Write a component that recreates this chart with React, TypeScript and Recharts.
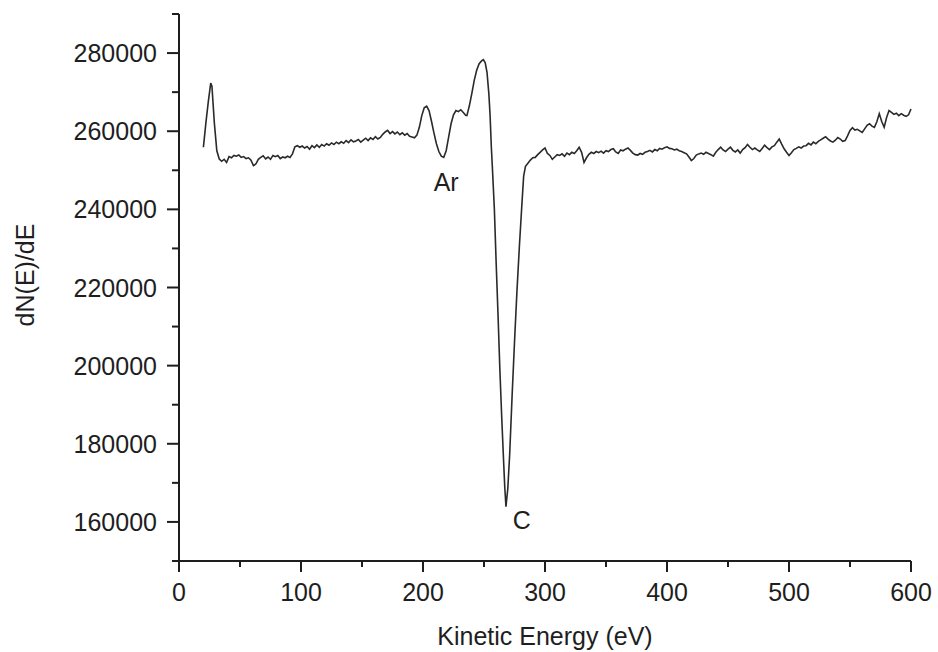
import React from 'react';
import { LineChart, Line, XAxis, YAxis, ReferenceDot } from 'recharts';

const energy: number[] = [
  20, 22, 24, 26, 27, 29, 31, 33, 35, 37, 39, 41, 43, 45, 47, 49, 51, 53, 55, 57, 59, 61, 63, 65, 67, 69,
  71, 73, 75, 77, 79, 81, 83, 85, 87, 89, 91, 93, 95, 97, 99, 101, 103, 105, 107, 109, 111, 113, 115, 117,
  119, 121, 123, 125, 127, 129, 131, 133, 135, 137, 139, 141, 143, 145, 147, 149, 151, 153, 155, 157, 159,
  161, 163, 165, 167, 169, 171, 173, 175, 177, 179, 181, 183, 185, 187, 189, 191, 193, 195, 197, 199, 201,
  203, 205, 207, 209, 211, 213, 215, 217, 219, 221, 223, 225, 227, 229, 231, 233, 235, 236, 238, 240, 242,
  244, 246, 248, 249.5, 251, 252.5, 254, 255, 256, 257, 258.5, 260, 261.5, 263, 264.5, 266, 267, 268, 269.5,
  271, 273, 275, 277, 279, 281, 282.5, 284, 286, 288, 290, 292, 294, 296, 298, 300, 302, 304, 306, 308, 310,
  312, 314, 316, 318, 320, 322, 324, 326, 328, 330, 332, 334, 336, 338, 340, 342, 344, 346, 348, 350, 352,
  354, 356, 358, 360, 362, 364, 366, 368, 370, 372, 374, 376, 378, 380, 382, 384, 386, 388, 390, 392, 394,
  396, 398, 400, 402, 404, 406, 408, 410, 412, 414, 416, 418, 420, 422, 424, 426, 428, 430, 432, 434, 436,
  438, 440, 442, 444, 446, 448, 450, 452, 454, 456, 458, 460, 462, 464, 466, 468, 470, 472, 474, 476, 478,
  480, 482, 484, 486, 488, 490, 492, 494, 496, 498, 500, 502, 504, 506, 508, 510, 512, 514, 516, 518, 520,
  522, 524, 526, 528, 530, 532, 534, 536, 538, 540, 542, 544, 546, 548, 550, 552, 554, 556, 558, 560, 562,
  564, 566, 568, 570, 572, 574, 576, 578, 580, 582, 584, 586, 588, 590, 592, 594, 596, 598, 600,
];

const signal: number[] = [
  255900, 262000, 267500, 272300, 271500, 262000, 255000, 252900, 252300, 252800, 252000, 253500, 253200,
  253800, 253600, 253900, 253300, 253500, 253000, 253200, 252600, 251200, 251600, 252800, 253300, 253700,
  252900, 253400, 252800, 253800, 253500, 253800, 253000, 253400, 253200, 253600, 253300, 254200, 256000,
  256300, 255900, 256200, 255700, 256100, 255400, 256300, 255800, 256500, 255900, 256600, 256200, 256800,
  256400, 257000, 256600, 257200, 256800, 257300, 256900, 257600, 257100, 257800, 257300, 257500, 257900,
  257200, 257700, 258200, 257600, 258300, 257900, 258600, 258000, 258400, 259200, 259800, 260200, 259400,
  259900, 259300, 259800, 259100, 259600, 259000, 259400, 258700, 258500, 258300, 259000, 261000, 264000,
  266000, 266400, 265200, 262500, 259500, 256800, 254800, 253600, 253300, 255000, 258500, 261900, 264200,
  265300, 265000, 265500, 264800, 264100, 264000, 266500, 269600, 273000, 275600, 277300, 278000, 278300,
  277500, 275000, 269500, 264000, 256000, 249900, 240000, 226000, 213000, 199000, 187000, 176000, 169000,
  163900, 168500, 177000, 192000, 206000, 219000, 230500, 241000, 248500, 251000, 251800, 252600, 253200,
  253300, 254000, 254600, 255200, 255700, 254300, 253800, 252800, 253400, 254000, 253800, 254200, 253600,
  254400, 254000, 254600, 254300, 255000, 255900, 254600, 252000, 253200, 254100, 254600, 254300, 254800,
  254500, 254900, 254400, 255000, 254800, 255300, 255500, 254700, 254300, 255200, 255000, 255400, 255700,
  255100, 254400, 254000, 253900, 254300, 254100, 254600, 254800, 255100, 254700, 255300, 255000, 255600,
  255400, 255800, 256000, 255600, 255500, 255200, 255400, 255000, 254800, 254500, 254200, 253400, 252500,
  253000, 253900, 254200, 254400, 254100, 254600, 254300, 254000, 253600, 254600, 255300, 255900, 255200,
  254800, 255400, 255900, 255100, 254700, 255200, 254400, 255300, 255800, 256600, 255900, 255300, 255700,
  255200, 254800, 255600, 256400, 255800, 255300, 256000, 256300, 257200, 258000, 256700, 255500, 254600,
  253800, 254500, 255300, 255600, 256000, 255700, 256200, 256300, 256900, 256500, 257200, 256800, 257400,
  257800, 258200, 258600, 258000, 257500, 257200, 257700, 258400, 258000, 257400, 257600, 258800, 260200,
  260900, 260300, 260500, 260100, 259700, 260600, 261500, 261900, 261300, 261000, 262400, 264500, 262500,
  261000, 263500, 265300, 264800, 264300, 264600, 264000, 264500, 264100, 263800, 264200, 265700,
];

const xTicks: number[] = [0, 50, 100, 150, 200, 250, 300, 350, 400, 450, 500, 550, 600];
const yTicks: number[] = [
  150000, 160000, 170000, 180000, 190000, 200000, 210000, 220000, 230000, 240000, 250000, 260000, 270000,
  280000, 290000,
];

const annotations = [
  { label: 'Ar', x: 219, y: 247100 },
  { label: 'C', x: 281, y: 160500 },
];

const data = energy.map((e, i) => ({ e, v: signal[i] }));

const FONT = '"Liberation Sans", Arial, sans-serif';
const INK = '#1e1e1e';

const XTick = (props: any) => {
  const { x, y, payload } = props;
  const major = payload.value % 100 === 0;
  return (
    <g>
      <line x1={x} x2={x} y1={y} y2={y + (major ? 11 : 6)} stroke={INK} strokeWidth={2} />
      {major && (
        <text x={x} y={y + 31} textAnchor="middle" dominantBaseline="central" fontSize={25} fontFamily={FONT} fill={INK}>
          {payload.value}
        </text>
      )}
    </g>
  );
};

const YTick = (props: any) => {
  const { x, y, payload } = props;
  const major = payload.value % 20000 === 0;
  return (
    <g>
      <line x1={x - (major ? 12 : 7)} x2={x} y1={y} y2={y} stroke={INK} strokeWidth={2} />
      {major && (
        <text x={x - 22} y={y} textAnchor="end" dominantBaseline="central" fontSize={25} fontFamily={FONT} fill={INK}>
          {payload.value}
        </text>
      )}
    </g>
  );
};

export default function App() {
  return (
    <div style={{ position: 'absolute', left: 0, top: 0, background: '#fff' }}>
      <LineChart width={938} height={652} data={data} margin={{ top: 14, right: 27, bottom: 0, left: 0 }}>
        <XAxis
          dataKey="e"
          type="number"
          domain={[0, 600]}
          ticks={xTicks}
          interval={0}
          tickSize={0}
          tickMargin={0}
          tickLine={false}
          tick={<XTick />}
          height={91}
          axisLine={{ stroke: INK, strokeWidth: 2 }}
          label={{
            content: () => (
              <text x={545} y={636} textAnchor="middle" dominantBaseline="central" fontSize={25} fontFamily={FONT} fill={INK}>
                Kinetic Energy (eV)
              </text>
            ),
          }}
        />
        <YAxis
          type="number"
          domain={[150000, 290000]}
          ticks={yTicks}
          interval={0}
          tickSize={0}
          tickMargin={0}
          tickLine={false}
          tick={<YTick />}
          width={179}
          axisLine={{ stroke: INK, strokeWidth: 2 }}
          label={{
            content: () => (
              <text
                x={25}
                y={275}
                transform="rotate(-90 25 275)"
                textAnchor="middle"
                dominantBaseline="central"
                fontSize={25}
                fontFamily={FONT}
                fill={INK}
              >
                dN(E)/dE
              </text>
            ),
          }}
        />
        <Line
          type="linear"
          dataKey="v"
          stroke="#2a2a2a"
          strokeWidth={1.6}
          dot={false}
          activeDot={false}
          isAnimationActive={false}
        />
        {annotations.map((a) => (
          <ReferenceDot
            key={a.label}
            x={a.x}
            y={a.y}
            r={0}
            shape={(p: any) => (
              <text x={p.cx} y={p.cy} textAnchor="middle" dominantBaseline="central" fontSize={25} fontFamily={FONT} fill={INK}>
                {a.label}
              </text>
            )}
          />
        ))}
      </LineChart>
    </div>
  );
}
